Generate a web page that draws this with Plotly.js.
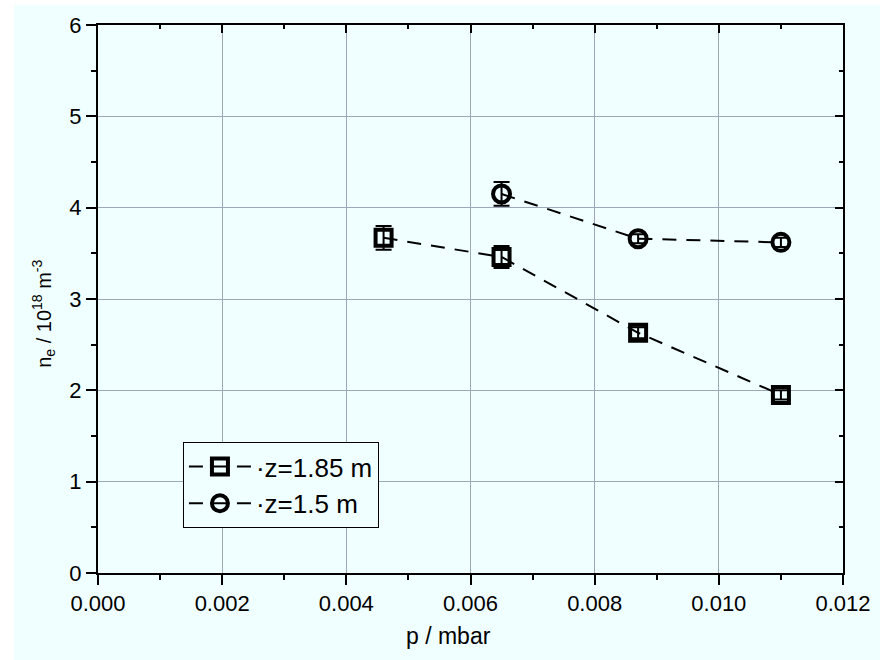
<!DOCTYPE html>
<html>
<head>
<meta charset="utf-8">
<script src="https://cdn.plot.ly/plotly-3.0.1.min.js"></script>
<style>
html,body{margin:0;padding:0;background:#ffffff;}
#chart{position:absolute;left:14px;top:5px;width:866px;height:655px;}
</style>
</head>
<body>
<div id="chart"></div>
<script>
// Data
var pSquare = [0.0046, 0.0065, 0.0087, 0.0110];
var neSquare = [3.67, 3.46, 2.63, 1.95];
var errSquare = [0.13, 0.12, 0.06, 0.05];

var pCircle = [0.0065, 0.0087, 0.0110];
var neCircle = [4.15, 3.66, 3.62];
var errCircle = [0.13, 0.05, 0.05];

var nameSquare = "\u00b7z=1.85 m";
var nameCircle = "\u00b7z=1.5 m";

var xTitle = "p / mbar";
var yTitle = "n<sub>e</sub> / 10<sup>18</sup> m<sup>-3</sup>";

var xTicks = [0.000, 0.002, 0.004, 0.006, 0.008, 0.010, 0.012];
var xTickText = ["0.000", "0.002", "0.004", "0.006", "0.008", "0.010", "0.012"];
var yTicks = [0, 1, 2, 3, 4, 5, 6];
var xMinor = [0.001, 0.003, 0.005, 0.007, 0.009, 0.011];
var yMinor = [0.5, 1.5, 2.5, 3.5, 4.5, 5.5];

var bg = "#F0FFFF";
var gridCol = "#9aa8ba";

var traces = [
  {
    x: pSquare, y: neSquare, name: nameSquare, type: "scatter", mode: "lines+markers",
    line: {color: "#000", width: 2, dash: "14px,10px"},
    marker: {symbol: "square-open", size: 16, color: "#000", line: {width: 4, color: "#000"}},
    error_y: {type: "data", array: errSquare, visible: true, color: "#000", thickness: 2, width: 8}
  },
  {
    x: pCircle, y: neCircle, name: nameCircle, type: "scatter", mode: "lines+markers",
    line: {color: "#000", width: 2, dash: "14px,10px"},
    marker: {symbol: "circle-open", size: 17, color: "#000", line: {width: 4, color: "#000"}},
    error_y: {type: "data", array: errCircle, visible: true, color: "#000", thickness: 2, width: 8}
  },
  // invisible trace to activate top and right axes
  {x: [0, 0.012], y: [0, 6], xaxis: "x2", yaxis: "y2", mode: "markers",
   marker: {opacity: 0}, showlegend: false, hoverinfo: "skip"}
];

var fontFam = "Liberation Sans";

var layout = {
  width: 866, height: 655,
  paper_bgcolor: bg, plot_bgcolor: bg,
  margin: {l: 84, r: 37, t: 20, b: 87},
  showlegend: true,
  font: {family: fontFam, color: "#000", size: 22},
  xaxis: {
    range: [0, 0.012], tickvals: xTicks, ticktext: xTickText,
    ticks: "outside", ticklen: 10, tickwidth: 2, tickcolor: "#000",
    showline: true, linecolor: "#000", linewidth: 2, mirror: false,
    showgrid: true, gridcolor: gridCol, gridwidth: 1, zeroline: false,
    tickfont: {size: 22, family: fontFam},
    minor: {tickvals: xMinor, ticks: "outside", ticklen: 5, tickwidth: 2, tickcolor: "#000", showgrid: false}
  },
  yaxis: {
    range: [0, 6], tickvals: yTicks,
    ticks: "outside", ticklen: 10, tickwidth: 2, tickcolor: "#000",
    showline: true, linecolor: "#000", linewidth: 2,
    showgrid: true, gridcolor: gridCol, gridwidth: 1, zeroline: false,
    tickfont: {size: 22, family: fontFam},
    minor: {tickvals: yMinor, ticks: "outside", ticklen: 5, tickwidth: 2, tickcolor: "#000", showgrid: false}
  },
  xaxis2: {
    overlaying: "x", side: "top", range: [0, 0.012], tickvals: xTicks,
    showticklabels: false, ticks: "inside", ticklen: 8, tickwidth: 2, tickcolor: "#000",
    showline: true, linecolor: "#000", linewidth: 2, showgrid: false, zeroline: false,
    minor: {tickvals: xMinor, ticks: "inside", ticklen: 4, tickwidth: 2, tickcolor: "#000", showgrid: false}
  },
  yaxis2: {
    overlaying: "y", side: "right", range: [0, 6], tickvals: yTicks,
    showticklabels: false, ticks: "inside", ticklen: 8, tickwidth: 2, tickcolor: "#000",
    showline: true, linecolor: "#000", linewidth: 2, showgrid: false, zeroline: false,
    minor: {tickvals: yMinor, ticks: "inside", ticklen: 4, tickwidth: 2, tickcolor: "#000", showgrid: false}
  },
  annotations: [
    {text: xTitle, xref: "paper", yref: "paper", x: 0.471, y: -0.115,
     xanchor: "center", yanchor: "middle", showarrow: false,
     font: {size: 23, family: fontFam, color: "#000"}},
    {text: yTitle, xref: "paper", yref: "paper", x: -0.0725, y: 0.473,
     xanchor: "center", yanchor: "middle", showarrow: false, textangle: -90,
     font: {size: 20, family: fontFam, color: "#000"}}
  ],
  legend: {
    x: 0.114, y: 0.239, xanchor: "left", yanchor: "top",
    bgcolor: bg, bordercolor: "#000", borderwidth: 1,
    font: {size: 26, family: fontFam},
    itemwidth: 62, tracegroupgap: 0
  }
};

Plotly.newPlot("chart", traces, layout, {displayModeBar: false, staticPlot: true});
</script>
</body>
</html>
